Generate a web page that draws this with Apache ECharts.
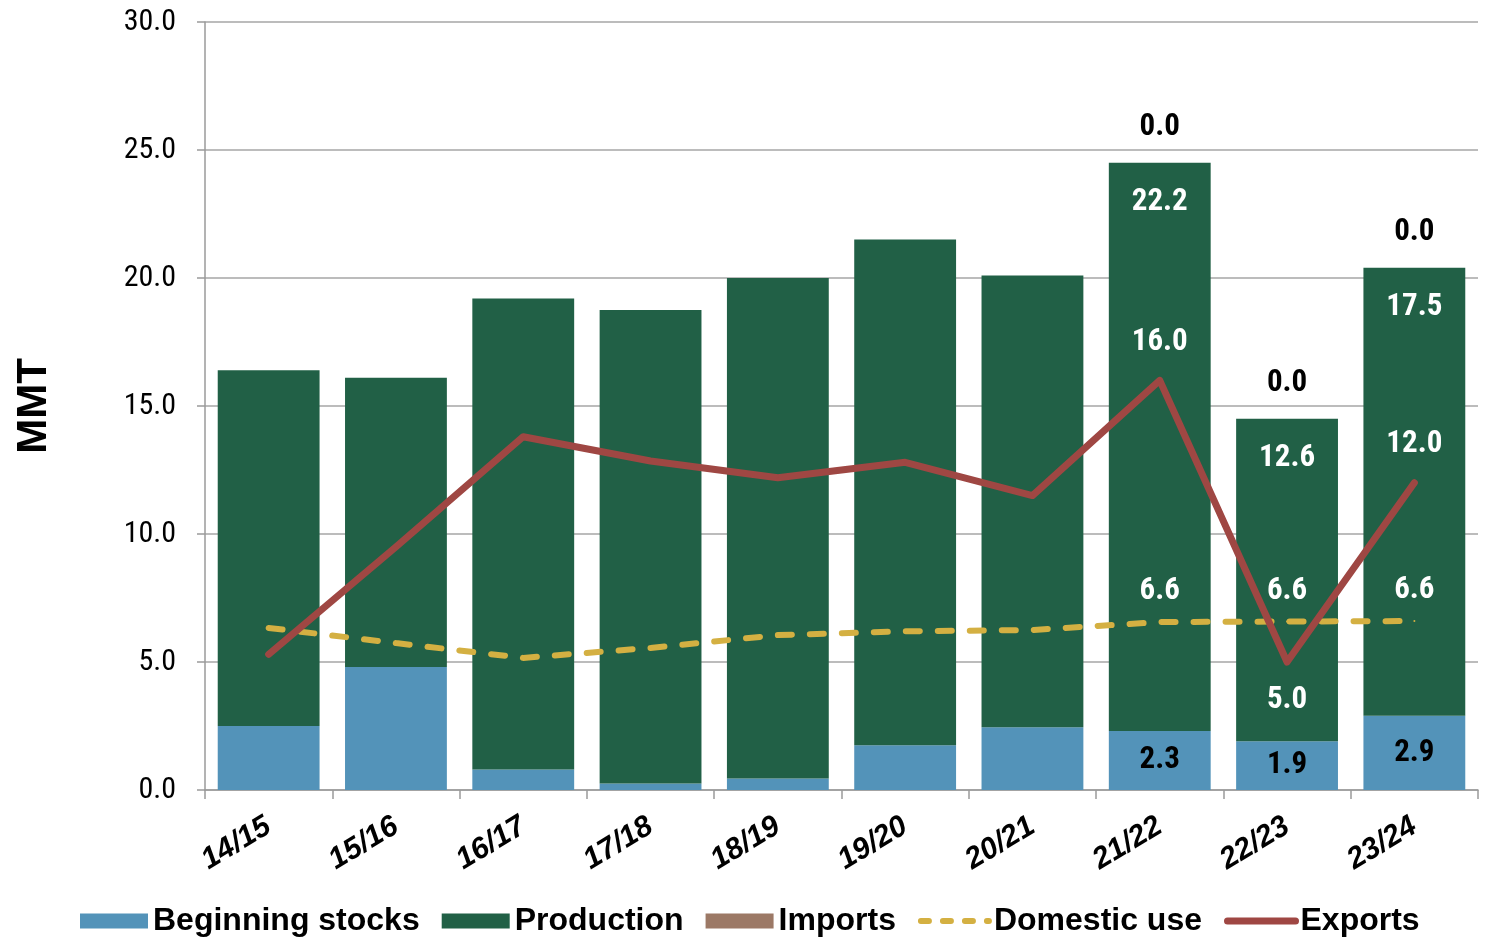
<!DOCTYPE html>
<html>
<head>
<meta charset="utf-8">
<script src="https://cdn.jsdelivr.net/npm/echarts@6/dist/echarts.min.js"></script>
<style>
  html, body { margin: 0; padding: 0; background: #fff; }
  #chart { width: 1485px; height: 944px; }
</style>
</head>
<body>
<div id="chart"></div>
<script>
var years = ['14/15', '15/16', '16/17', '17/18', '18/19', '19/20', '20/21', '21/22', '22/23', '23/24'];
var beginningStocks = [2.5, 4.8, 0.8, 0.25, 0.45, 1.75, 2.45, 2.3, 1.9, 2.9];
var production = [13.9, 11.3, 18.4, 18.5, 19.55, 19.75, 17.65, 22.2, 12.6, 17.5];
var imports = [0, 0, 0, 0, 0, 0, 0, 0, 0, 0];
var domesticUse = [6.33, 5.74, 5.16, 5.55, 6.05, 6.2, 6.25, 6.56, 6.58, 6.6];
var exportsVals = [5.3, 9.5, 13.8, 12.85, 12.2, 12.8, 11.5, 16.0, 5.0, 12.0];

var FIRST_LABELLED = 7;
var numFont = "'Roboto Condensed', 'Liberation Sans Narrow', 'DejaVu Sans Condensed', Roboto, sans-serif";
var textFont = "'Liberation Sans', Arial, sans-serif";

function lastOnly(p) {
  return p.dataIndex >= FIRST_LABELLED ? Number(p.value).toFixed(1) : '';
}

var chart = echarts.init(document.getElementById('chart'));

var option = {
  animation: false,
  grid: { left: 205, right: 7, top: 22, bottom: 154 },
  legend: {
    left: 75,
    top: 900,
    itemWidth: 68,
    itemHeight: 15,
    itemGap: 22,
    textStyle: { fontFamily: textFont, fontWeight: 'bold', fontSize: 32, color: '#000' },
    data: [
      { name: 'Beginning stocks', icon: 'rect' },
      { name: 'Production', icon: 'rect' },
      { name: 'Imports', icon: 'rect' },
      { name: 'Domestic use', itemStyle: { opacity: 0 }, lineStyle: { width: 6, type: [8, 14], cap: 'round' } },
      { name: 'Exports', itemStyle: { opacity: 0 }, lineStyle: { width: 7, cap: 'round' } }
    ]
  },
  xAxis: {
    type: 'category',
    data: years,
    axisLine: { lineStyle: { color: '#9a9a9a', width: 1.5 } },
    axisTick: { show: true, length: 9, lineStyle: { color: '#9a9a9a', width: 1.5 } },
    axisLabel: {
      rotate: 31,
      margin: 34,
      color: '#000',
      fontFamily: textFont,
      fontWeight: 'bold',
      fontStyle: 'italic',
      fontSize: 30
    }
  },
  yAxis: {
    type: 'value',
    min: 0,
    max: 30,
    interval: 5,
    name: 'MMT',
    nameLocation: 'middle',
    nameRotate: 90,
    nameGap: 150,
    nameTextStyle: { fontFamily: textFont, fontWeight: 'bold', fontSize: 42, color: '#000' },
    axisLine: { show: true, lineStyle: { color: '#9a9a9a', width: 1.5 } },
    axisTick: { show: true, length: 8, lineStyle: { color: '#9a9a9a', width: 1.5 } },
    splitLine: { lineStyle: { color: '#a6a6a6', width: 1.5 } },
    axisLabel: {
      margin: 29,
      color: '#000',
      fontFamily: numFont,
      fontSize: 30,
      formatter: function (v) { return v.toFixed(1); }
    }
  },
  series: [
    {
      name: 'Beginning stocks',
      type: 'bar',
      stack: 'supply',
      barWidth: '80%',
      data: beginningStocks,
      itemStyle: { color: '#5393b9' },
      label: {
        show: true, position: 'inside', formatter: lastOnly,
        color: '#000', fontFamily: numFont, fontWeight: 'bold', fontSize: 31
      }
    },
    {
      name: 'Production',
      type: 'bar',
      stack: 'supply',
      data: production,
      itemStyle: { color: '#216046' },
      label: {
        show: true, position: 'insideTop', distance: 24, formatter: lastOnly,
        color: '#fff', fontFamily: numFont, fontWeight: 'bold', fontSize: 31
      }
    },
    {
      name: 'Imports',
      type: 'bar',
      stack: 'supply',
      data: imports,
      itemStyle: { color: '#9c7966' },
      label: {
        show: true, position: 'top', distance: 20, formatter: lastOnly,
        color: '#000', fontFamily: numFont, fontWeight: 'bold', fontSize: 31
      }
    },
    {
      name: 'Domestic use',
      type: 'line',
      data: domesticUse,
      symbol: 'circle',
      symbolSize: 2,
      itemStyle: { color: '#d4b042' },
      lineStyle: { color: '#d4b042', width: 6, type: [14, 18], cap: 'round' },
      label: {
        show: true, position: 'top', distance: 14, formatter: lastOnly,
        color: '#fff', fontFamily: numFont, fontWeight: 'bold', fontSize: 31
      },
      z: 3
    },
    {
      name: 'Exports',
      type: 'line',
      data: exportsVals.map(function (v, i) {
        return i === 8 ? { value: v, label: { position: 'bottom' } } : v;
      }),
      symbol: 'circle',
      symbolSize: 2,
      itemStyle: { color: '#9f4743' },
      lineStyle: { color: '#9f4743', width: 7, cap: 'round', join: 'round' },
      label: {
        show: true, position: 'top', distance: 22, formatter: lastOnly,
        color: '#fff', fontFamily: numFont, fontWeight: 'bold', fontSize: 31
      },
      z: 4
    }
  ]
};

chart.setOption(option);
</script>
</body>
</html>
